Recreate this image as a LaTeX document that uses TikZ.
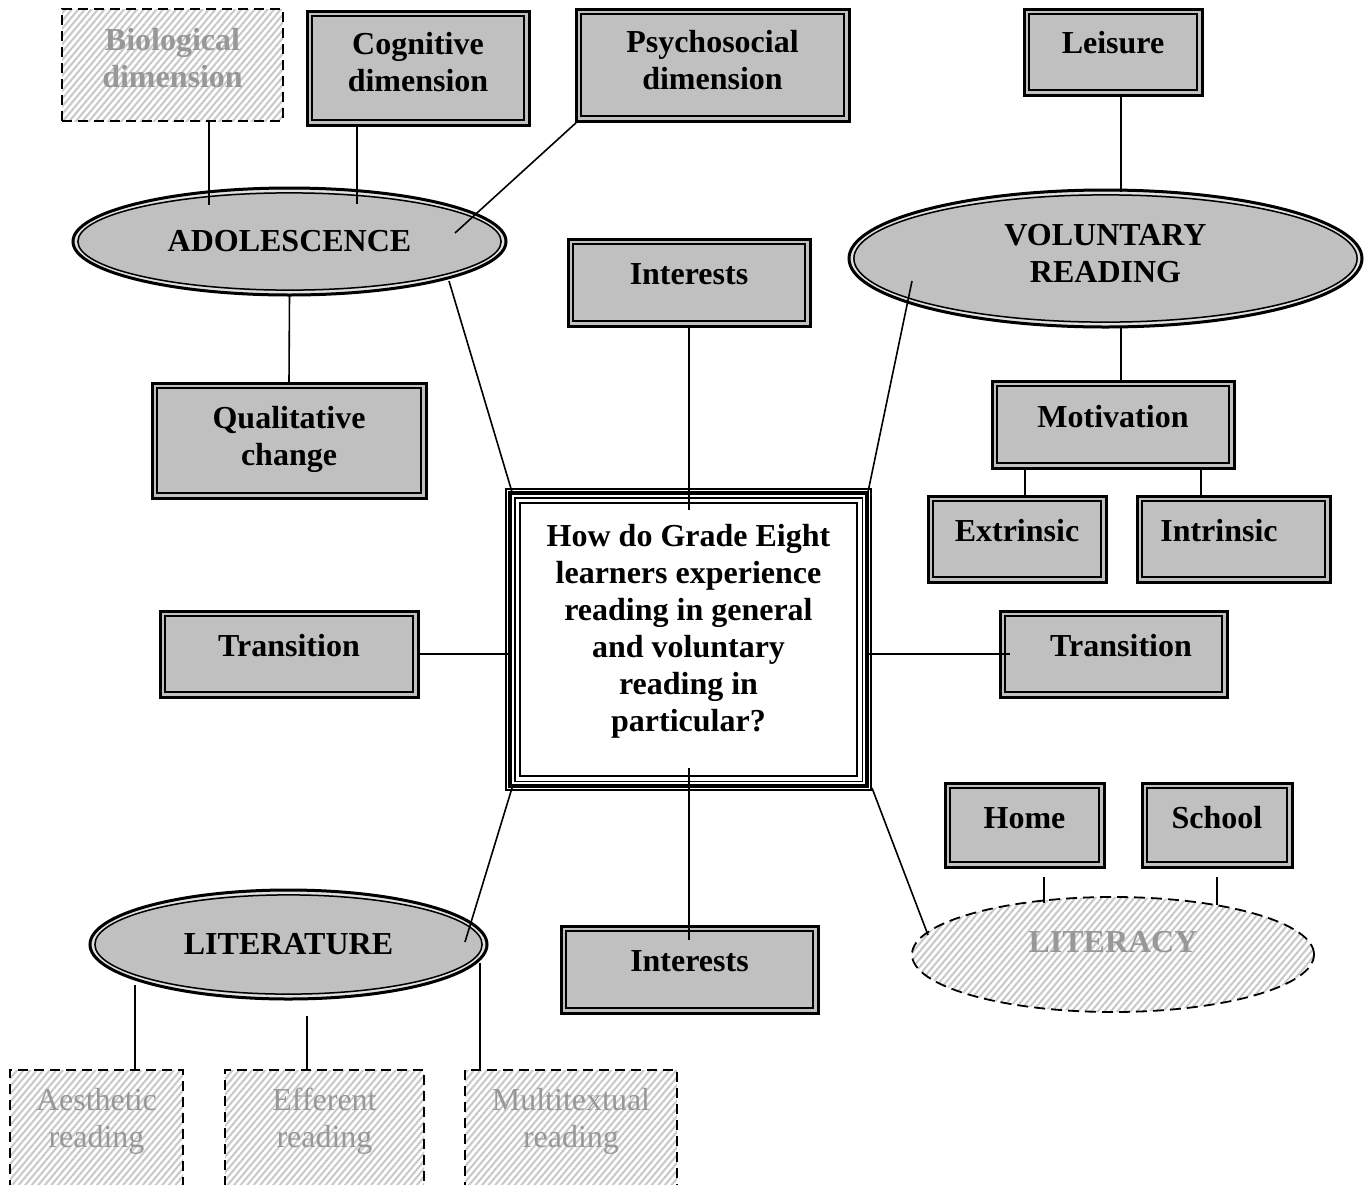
\documentclass[tikz,border=0pt]{standalone}
\usepackage{fontspec}
\setmainfont{Liberation Serif}
\usetikzlibrary{shapes.geometric,patterns.meta}
\definecolor{boxgray}{RGB}{192,192,192}
\definecolor{fadetext}{RGB}{152,152,152}
\definecolor{hatchgray}{RGB}{200,200,200}
\definecolor{gapgray}{RGB}{225,225,225}
% raised multi-line label whose first baseline sits #1pt above the node centre
\newcommand{\tx}[2]{\raisebox{#1pt}[0pt][0pt]{\begin{tabular}[t]{@{}c@{}}#2\end{tabular}}}

\tikzset{
  every node/.style={inner sep=0pt, outer sep=0pt},
  big/.style={font=\fontsize{32}{37}\selectfont\bfseries},
  plain/.style={font=\fontsize{32}{37}\selectfont},
  conn/.style={line width=1.6pt},
  hatched/.style={pattern={Lines[angle=50,distance=5pt,line width=2pt]}, pattern color=hatchgray},
  sbox/.style 2 args={rectangle, big, draw=black, line width=3pt, fill=boxgray,
    minimum width=#1pt, minimum height=#2pt,
    path picture={\draw[line width=1.5pt]
      ([shift={(5.2pt,5.2pt)}]path picture bounding box.south west) rectangle
      ([shift={(-5.2pt,-5.2pt)}]path picture bounding box.north east);}},
  dbox/.style 2 args={rectangle, draw=black, line width=2pt, dash pattern=on 10pt off 6pt,
    hatched, text=fadetext, minimum width=#1pt, minimum height=#2pt},
  sell/.style 2 args={ellipse, big, draw=black, line width=3pt, fill=boxgray,
    minimum width=#1pt, minimum height=#2pt,
    path picture={
      \draw[gapgray, line width=2.4pt] (path picture bounding box.center)
        ellipse [x radius={#1pt/2-2.6pt}, y radius={#2pt/2-2.6pt}];
      \draw[line width=1.5pt] (path picture bounding box.center)
        ellipse [x radius={#1pt/2-4.9pt}, y radius={#2pt/2-4.9pt}];}},
  dell/.style 2 args={ellipse, big, draw=black, line width=1.8pt, dash pattern=on 11pt off 6pt,
    hatched, text=fadetext, minimum width=#1pt, minimum height=#2pt},
  qbox/.style 2 args={rectangle, big, draw=black, line width=1.2pt, fill=white,
    minimum width=#1pt, minimum height=#2pt,
    path picture={
      \draw[line width=4.2pt]
        ([shift={(4pt,4pt)}]path picture bounding box.south west) rectangle
        ([shift={(-4pt,-4pt)}]path picture bounding box.north east);
      \draw[line width=1.4pt]
        ([shift={(8.8pt,8.8pt)}]path picture bounding box.south west) rectangle
        ([shift={(-8.8pt,-8.8pt)}]path picture bounding box.north east);
      \draw[line width=1.7pt]
        ([shift={(14pt,14pt)}]path picture bounding box.south west) rectangle
        ([shift={(-14pt,-14pt)}]path picture bounding box.north east);}}
}

\begin{document}
\begin{tikzpicture}[x=1pt,y=-1pt]
\fill[white] (0,0) rectangle (1371,1184);
\clip (0,0) rectangle (1371,1184);

% top row
\node[dbox={221}{112}, big, text=fadetext] (bio) at (172.5,65) {\tx{15}{Biological\\dimension}};
\node[sbox={222}{114}] (cog) at (418,68) {\tx{14}{Cognitive\\dimension}};
\node[sbox={273}{112}] (psy) at (712.5,65) {\tx{13}{Psychosocial\\dimension}};
\node[sbox={178}{86}] (leis) at (1113,52) {\tx{-1}{Leisure}};

% main themes
\node[sell={433}{107}] (adol) at (289.5,241.5) {\tx{-9.5}{ADOLESCENCE}};
\node[sell={513}{137}] (vr) at (1105.5,258.5) {\tx{13.5}{VOLUNTARY\\READING}};
\node[sell={397}{109}] (lit) at (288.5,944.5) {\tx{-9.5}{LITERATURE}};
\node[dell={402}{115}] (litc) at (1113,954.5) {\tx{2.5}{LITERACY}};

% sub-topics
\node[sbox={242}{87}] (intT) at (689,282.5) {\tx{-1.5}{Interests}};
\node[sbox={274}{115}] (qual) at (289,440.5) {\tx{12.5}{Qualitative\\change}};
\node[sbox={242}{87}] (mot) at (1113,424.5) {\tx{-2.5}{Motivation}};
\node[sbox={178}{86}] (ext) at (1017,539) {\tx{-2}{Extrinsic}};
\node[sbox={193}{86}] (intr) at (1233.5,539) {\hspace*{-29pt}\tx{-2}{Intrinsic}};
\node[sbox={258}{86}] (trL) at (289,654) {\tx{-2}{Transition}};
\node[sbox={227}{86}] (trR) at (1113.5,654) {\hspace*{15pt}\tx{-2}{Transition}};
\node[sbox={159}{84}] (home) at (1024.5,825) {\tx{-3}{Home}};
\node[sbox={150}{84}] (school) at (1217,825) {\tx{-3}{School}};
\node[sbox={257}{87}] (intB) at (689.5,969.5) {\tx{-1.5}{Interests}};

% research question
\node[qbox={365}{301}] (q) at (688.5,639.5)
  {\tx{93.5}{How do Grade Eight\\learners experience\\reading in general\\and voluntary\\reading in\\particular?}};

% reading stances
\node[dbox={173}{120}, plain] (aes) at (96.5,1130) {\tx{20}{Aesthetic\\reading}};
\node[dbox={199}{120}, plain] (eff) at (324.5,1130) {\tx{20}{Efferent\\reading}};
\node[dbox={212}{120}, plain] (mul) at (571,1130) {\tx{20}{Multitextual\\reading}};

% connectors
\draw[conn] ([shift={(36.5,56)}]bio.center) -- ([shift={(-80.5,-37)}]adol.center);
\draw[conn] ([shift={(-61,57)}]cog.center) -- ([shift={(67.5,-37.5)}]adol.center);
\draw[conn] ([shift={(-134.5,56)}]psy.center) -- ([shift={(165.5,-8.5)}]adol.center);
\draw[conn] ([shift={(8,43)}]leis.center) -- ([shift={(15.5,-66.5)}]vr.center);
\draw[conn] (adol.south) -- (qual.north);
\draw[conn] ([shift={(15.5,68.5)}]vr.center) -- ([shift={(8,-43.5)}]mot.center);
\draw[conn] ([shift={(-88,43.5)}]mot.center) -- ([shift={(8,-43)}]ext.center);
\draw[conn] ([shift={(88,43.5)}]mot.center) -- ([shift={(-32.5,-43)}]intr.center);
\draw[conn] ([shift={(159.5,39.5)}]adol.center) -- ([shift={(-176.5,-147.5)}]q.center);
\draw[conn] ([shift={(-193.5,22.5)}]vr.center) -- ([shift={(179.5,-147.5)}]q.center);
\draw[conn] (intT.south) -- ([shift={(0.5,-129.5)}]q.center);
\draw[conn] (trL.east) -- ([shift={(-176.5,14.5)}]q.center);
\draw[conn] ([shift={(179.5,14.5)}]q.center) -- ([shift={(-103.5,0)}]trR.center);
\draw[conn] ([shift={(0.5,128.5)}]q.center) -- ([shift={(-0.5,-29.5)}]intB.center);
\draw[conn] ([shift={(-176.5,148.5)}]q.center) -- ([shift={(176.5,-2.5)}]lit.center);
\draw[conn] ([shift={(183.5,148.5)}]q.center) -- ([shift={(-185,-19.5)}]litc.center);
\draw[conn] ([shift={(19.5,52)}]home.center) -- ([shift={(-69,-51.5)}]litc.center);
\draw[conn] ([shift={(0,52)}]school.center) -- ([shift={(104,-49.5)}]litc.center);
\draw[conn] ([shift={(-153.5,40.5)}]lit.center) -- ([shift={(38.5,-60)}]aes.center);
\draw[conn] ([shift={(18.5,71.5)}]lit.center) -- ([shift={(-17.5,-60)}]eff.center);
\draw[conn] ([shift={(191.5,18.5)}]lit.center) -- ([shift={(-91,-60)}]mul.center);
\end{tikzpicture}
\end{document}
